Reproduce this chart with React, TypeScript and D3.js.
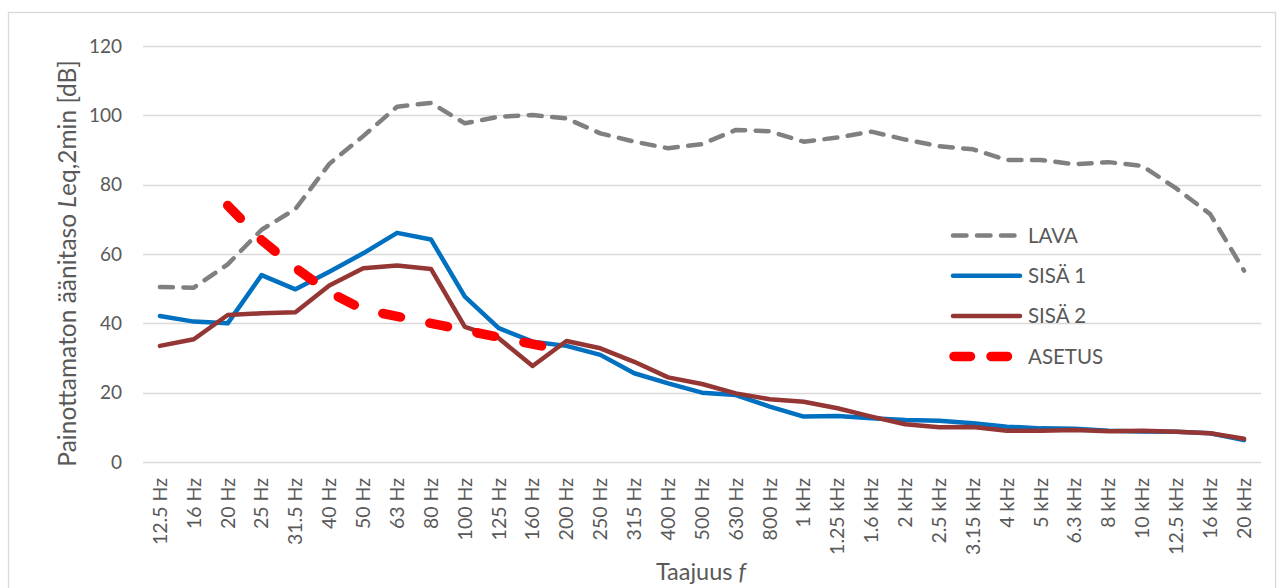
import { useRef, useEffect } from "react";
import * as d3 from "d3";

// ─── Data ─────────────────────────────────────────────────────────────────────

const categories = [
  "12.5 Hz", "16 Hz", "20 Hz", "25 Hz", "31.5 Hz", "40 Hz", "50 Hz", "63 Hz",
  "80 Hz", "100 Hz", "125 Hz", "160 Hz", "200 Hz", "250 Hz", "315 Hz", "400 Hz",
  "500 Hz", "630 Hz", "800 Hz", "1 kHz", "1.25 kHz", "1.6 kHz", "2 kHz", "2.5 kHz",
  "3.15 kHz", "4 kHz", "5 kHz", "6.3 kHz", "8 kHz", "10 kHz", "12.5 kHz", "16 kHz",
  "20 kHz",
];

const lava = [
  50.5, 50.3, 57, 67, 73, 86, 94, 102.5, 103.6, 97.7, 99.6, 100.1, 99.1, 94.8,
  92.4, 90.5, 91.7, 95.8, 95.4, 92.4, 93.6, 95.3, 93.0, 91.1, 90.2, 87.1, 87.1,
  85.9, 86.5, 85.4, 78.9, 71.5, 55.2,
];

const sisa1 = [
  42.1, 40.5, 40.0, 53.9, 49.8, 54.9, 60.2, 66.1, 64.2, 47.7, 38.6, 34.7, 33.5,
  30.9, 25.6, 22.7, 20.0, 19.3, 16.0, 13.1, 13.3, 12.6, 12.1, 11.9, 11.2, 10.2,
  9.7, 9.6, 9.0, 8.8, 8.7, 8.3, 6.3,
];

const sisa2 = [
  33.5, 35.4, 42.4, 42.9, 43.2, 50.9, 55.9, 56.7, 55.7, 39.0, 35.7, 27.7, 34.9,
  32.8, 28.9, 24.4, 22.5, 19.8, 18.1, 17.4, 15.5, 13.1, 10.9, 10.0, 10.1, 9.0,
  9.0, 9.2, 8.9, 9.0, 8.7, 8.3, 6.7,
];

const asetus: (number | null)[] = [
  null, null, 74, 64, 56, 49, 44, 42, 40, 38, 36, 34, 32, null, null, null, null,
  null, null, null, null, null, null, null, null, null, null, null, null, null,
  null, null, null,
];

const yTicks = [0, 20, 40, 60, 80, 100, 120];

const legendNames = ["LAVA", "SISÄ 1", "SISÄ 2", "ASETUS"];

// ─── Layout ───────────────────────────────────────────────────────────────────

const W = 1282;
const H = 588;
const PLOT = { left: 143, right: 1261, top: 46, bottom: 462 };
const FONT = "Lato, 'Open Sans', sans-serif";
const TEXT = "#595959";

const STYLES = [
  { color: "#808080", width: 4.5, dash: "13 10.5", legendDash: "13.5 10.5" },
  { color: "#0070C0", width: 4.5, dash: null, legendDash: null },
  { color: "#943634", width: 4.5, dash: null, legendDash: null },
  { color: "#FF0000", width: 9.5, dash: "18 30", legendDash: "16.5 20.5" },
];

export default function App() {
  const svgRef = useRef<SVGSVGElement>(null);

  useEffect(() => {
    if (!svgRef.current) return;
    const svg = d3.select(svgRef.current);
    svg.selectAll("*").remove();

    // ── Scales ──────────────────────────────────────────────────────────────
    const x = d3
      .scalePoint<string>()
      .domain(categories)
      .range([PLOT.left, PLOT.right])
      .padding(0.5);
    const y = d3.scaleLinear().domain([0, 120]).range([PLOT.bottom, PLOT.top]);

    // ── Frame ───────────────────────────────────────────────────────────────
    svg
      .append("rect")
      .attr("x", 8.5)
      .attr("y", 12.5)
      .attr("width", 1267)
      .attr("height", 600)
      .attr("fill", "#fff")
      .attr("stroke", "#D9D9D9")
      .attr("stroke-width", 1.3);

    // ── Gridlines + y ticks ───────────────────────────────────────────────────
    const g = svg.append("g");
    g.selectAll(".grid")
      .data(yTicks)
      .enter()
      .append("line")
      .attr("x1", PLOT.left)
      .attr("x2", PLOT.right)
      .attr("y1", (d) => Math.round(y(d)) + 0.5)
      .attr("y2", (d) => Math.round(y(d)) + 0.5)
      .attr("stroke", "#D9D9D9")
      .attr("stroke-width", 1.5);

    g.selectAll(".ytick")
      .data(yTicks)
      .enter()
      .append("text")
      .attr("x", 122)
      .attr("y", (d) => y(d))
      .attr("dy", "0.35em")
      .attr("text-anchor", "end")
      .attr("font-family", FONT)
      .attr("font-size", 19)
      .attr("fill", TEXT)
      .text((d) => d);

    // ── X tick labels ─────────────────────────────────────────────────────────
    g.selectAll(".xtick")
      .data(categories)
      .enter()
      .append("text")
      .attr("transform", (d) => `translate(${x(d)},478) rotate(-90)`)
      .attr("dy", "0.35em")
      .attr("text-anchor", "end")
      .attr("font-family", FONT)
      .attr("font-size", 19.5)
      .attr("fill", TEXT)
      .text((d) => d);

    // ── Lines ─────────────────────────────────────────────────────────────────
    const series = [lava, sisa1, sisa2, asetus];
    const line = d3
      .line<number | null>()
      .defined((d) => d != null)
      .x((_, i) => x(categories[i]) ?? 0)
      .y((d) => y(d as number));

    series.forEach((values, i) => {
      const st = STYLES[i];
      svg
        .append("path")
        .datum(values)
        .attr("d", line)
        .attr("fill", "none")
        .attr("stroke", st.color)
        .attr("stroke-width", st.width)
        .attr("stroke-linejoin", "round")
        .attr("stroke-linecap", "round")
        .attr("stroke-dasharray", st.dash);
    });

    // ── Legend ────────────────────────────────────────────────────────────────
    const legend = svg.append("g");
    legendNames.forEach((name, i) => {
      const st = STYLES[i];
      const ly = 235.5 + i * 40.3;
      legend
        .append("line")
        .attr("x1", i === 3 ? 954 : 953)
        .attr("x2", 1020)
        .attr("y1", ly)
        .attr("y2", ly)
        .attr("stroke", st.color)
        .attr("stroke-width", st.width)
        .attr("stroke-linecap", "round")
        .attr("stroke-dasharray", st.legendDash);
      legend
        .append("text")
        .attr("x", 1028)
        .attr("y", ly)
        .attr("dy", "0.35em")
        .attr("font-family", FONT)
        .attr("font-size", 20.5)
        .attr("fill", TEXT)
        .text(name);
    });

    // ── Axis titles ───────────────────────────────────────────────────────────
    const yTitle = svg
      .append("text")
      .attr("transform", `translate(67,263.5) rotate(-90)`)
      .attr("dy", "0.35em")
      .attr("text-anchor", "middle")
      .attr("font-family", FONT)
      .attr("font-size", 24.5)
      .attr("fill", TEXT);
    yTitle.append("tspan").text("Painottamaton äänitaso ");
    yTitle.append("tspan").attr("font-style", "italic").text("L");
    yTitle.append("tspan").text("eq,2min [dB]");

    const xTitle = svg
      .append("text")
      .attr("x", 701)
      .attr("y", 572)
      .attr("dy", "0.35em")
      .attr("text-anchor", "middle")
      .attr("font-family", FONT)
      .attr("font-size", 23.5)
      .attr("fill", TEXT);
    xTitle.append("tspan").text("Taajuus ");
    xTitle.append("tspan").attr("font-style", "italic").text("f");
  }, []);

  return (
    <svg
      ref={svgRef}
      width={W}
      height={H}
      style={{ position: "absolute", left: 0, top: 0, background: "#fff" }}
    />
  );
}
